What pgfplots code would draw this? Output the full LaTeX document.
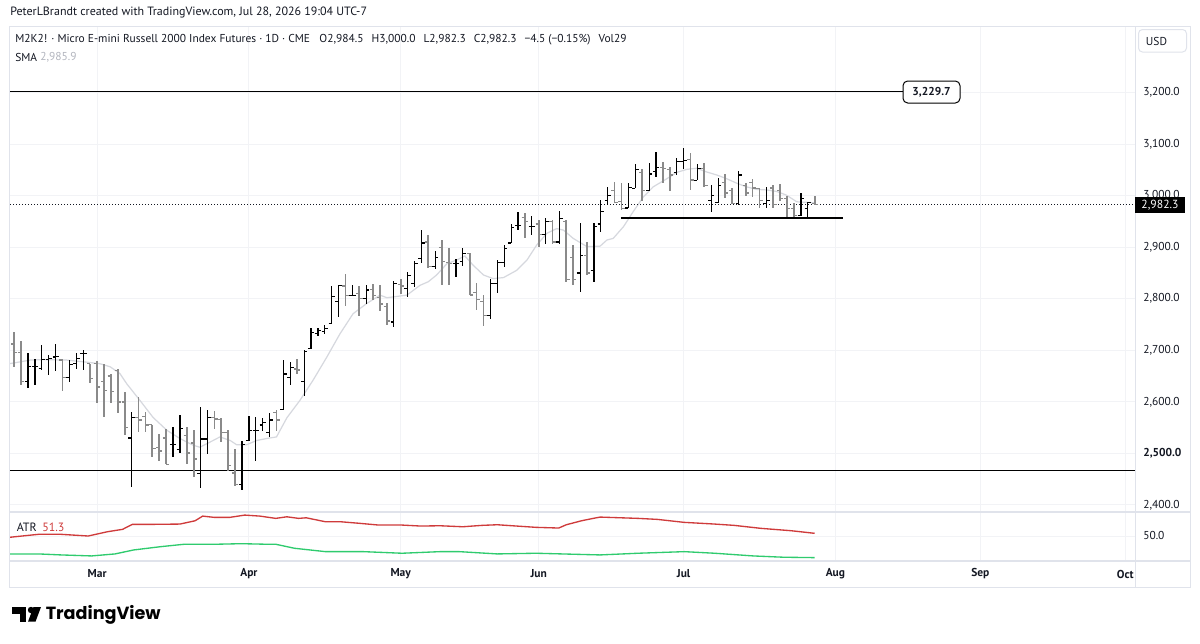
\documentclass[border=0pt]{standalone}
\usepackage{pgfplots}
\pgfplotsset{compat=1.18}
\usepackage{pgfplotstable}
\usepackage{fontspec}
\setmainfont{PT Sans}
\newfontfamily\logofont{Poppins}
\definecolor{tvtext}{HTML}{131722}
\definecolor{tvgrid}{HTML}{F2F3F6}
\definecolor{tvborder}{HTML}{E0E3EB}
\definecolor{smac}{HTML}{D6D8DE}
\definecolor{downc}{HTML}{8A8A8A}
\definecolor{atrred}{HTML}{CF3B3B}
\definecolor{atrgreen}{HTML}{2FCB6E}
\definecolor{smaval}{HTML}{B2B5BE}
\newcommand\fpx[1]{\fontsize{#1}{#1}\selectfont}
\pgfdeclareplotmark{otick}{\pgfpathmoveto{\pgfpoint{-2.4pt}{0pt}}\pgfpathlineto{\pgfpoint{0pt}{0pt}}\pgfusepathqstroke}
\pgfdeclareplotmark{ctick}{\pgfpathmoveto{\pgfpoint{0pt}{0pt}}\pgfpathlineto{\pgfpoint{2.4pt}{0pt}}\pgfusepathqstroke}

\pgfplotstableread{
i O H L C
1 2712 2736 2668 2696
2 2696 2718 2632 2640
3 2640 2694 2627 2668
4 2668 2684 2632 2668
5 2664 2710 2661 2682
6 2682 2690 2653 2684
7 2687 2712 2660 2688
8 2681 2681 2621 2647
9 2648 2681 2638 2673
10 2674 2694 2664 2684
11 2694 2701 2661 2694
12 2674 2674 2637 2645
13 2674 2679 2598 2629
14 2640 2674 2571 2622
15 2650 2655 2597 2620
16 2661 2663 2578 2600
17 2600 2619 2535 2550
18 2530 2580 2435 2570
19 2570 2609 2542 2565
20 2572 2580 2542 2555
21 2556 2556 2494 2509
22 2511 2538 2486 2505
23 2530 2548 2479 2479
24 2517 2552 2493 2517
25 2507 2574 2501 2548
26 2535 2551 2479 2501
27 2520 2545 2454 2489
28 2461 2590 2433 2528
29 2528 2585 2499 2570
30 2570 2582 2548 2567
31 2566 2569 2522 2540
32 2540 2546 2466 2477
33 2462 2509 2436 2440
34 2440 2525 2430 2518
35 2525 2572 2525 2545
36 2545 2571 2486 2545
37 2555 2569 2543 2560
38 2540 2578 2532 2565
39 2580 2585 2543 2565
40 2585 2681 2585 2654
41 2648 2677 2632 2666
42 2664 2684 2655 2662
43 2640 2700 2611 2697
44 2703 2744 2703 2735
45 2733 2744 2727 2738
46 2737 2750 2731 2743
47 2752 2824 2752 2805
48 2795 2826 2765 2825
49 2825 2848 2785 2806
50 2806 2826 2805 2806
51 2810 2824 2766 2800
52 2800 2826 2789 2817
53 2818 2828 2797 2806
54 2803 2826 2776 2790
55 2785 2791 2750 2757
56 2755 2835 2745 2830
57 2828 2839 2810 2825
58 2820 2852 2804 2845
59 2830 2873 2822 2868
60 2878 2934 2870 2908
61 2910 2923 2859 2862
62 2862 2893 2857 2880
63 2900 2914 2826 2872
64 2870 2899 2826 2868
65 2868 2878 2842 2868
66 2872 2899 2863 2888
67 2888 2889 2807 2807
68 2812 2831 2779 2798
69 2795 2807 2747 2767
70 2767 2839 2760 2830
71 2830 2876 2811 2870
72 2870 2904 2862 2898
73 2908 2945 2908 2938
74 2942 2969 2933 2942
75 2958 2967 2917 2950
76 2940 2960 2923 2940
77 2945 2952 2901 2925
78 2925 2956 2907 2950
79 2950 2952 2907 2910
80 2910 2971 2906 2955
81 2950 2952 2833 2837
82 2880 2904 2826 2837
83 2850 2946 2813 2884
84 2884 2910 2846 2850
85 2855 2946 2833 2940
86 2945 2991 2930 2969
87 2990 3017 2982 3000
88 3010 3027 2985 2987
89 2988 3024 2972 2975
90 2976 3024 2975 3016
91 3014 3061 3014 3050
92 3045 3051 2990 3010
93 3010 3064 3009 3042
94 3047 3085 3037 3055
95 3055 3066 3025 3053
96 3050 3055 3009 3040
97 3045 3072 3040 3066
98 3066 3092 3051 3068
99 3070 3083 3011 3030
100 3030 3061 3030 3053
101 3053 3064 3017 3020
102 2990 3020 2969 3000
103 2987 3035 2986 3020
104 3025 3042 2995 3005
105 3010 3014 2984 2985
106 2985 3048 2982 3040
107 3020 3025 3000 3005
108 3025 3033 2998 3015
109 3014 3014 2975 2990
110 2985 3017 2975 2990
111 3015 3020 2975 2983
112 3010 3022 2990 2995
113 2995 2999 2956 2975
114 2975 2985 2959 2962
115 2962 3005 2960 2995
116 2975 2988 2956 2986.8
117 2984.5 3000 2982.3 2982.3
}\ohlc

\pgfplotstableread{
i v
0.3 2674
3.3 2681
5.2 2682
8.6 2681
11.5 2677
13.4 2674
14.9 2668
16.3 2655
17.3 2635
19.2 2603
21.1 2570
23.1 2545
25.0 2529
26.9 2516
27.9 2512
29.8 2525
30.8 2532
32.3 2525
33.2 2517
34.7 2517
36.1 2525
37.6 2529
39.0 2532
40.5 2569
42.4 2603
44.3 2642
46.3 2687
48.2 2732
50.1 2771
52.1 2791
54.0 2807
55.0 2802
56.2 2804
57.9 2807
59.8 2826
61.0 2833
62.2 2846
63.7 2868
65.1 2875
66.3 2883
67.5 2865
69.0 2846
70.4 2839
71.9 2841
73.8 2855
75.3 2875
76.7 2904
78.2 2927
79.6 2936
80.6 2933
82.0 2917
84.0 2901
85.9 2902
86.9 2914
87.8 2917
89.3 2940
90.7 2969
92.2 2998
93.6 3017
95.6 3033
97.0 3045
98.5 3051
99.9 3053
101.3 3046
102.8 3040
104.2 3033
105.7 3024
107.1 3017
108.6 3012
110.0 3011
111.5 3008
112.9 3001
114.4 2988
117 2986
}\sma

\pgfplotstableread{
i v
0.3 49.67
4.5 50.89
7.8 50.89
11.7 50.20
14.5 51.95
16.7 52.93
18.1 54.96
21.1 54.96
25.0 55.08
27.2 56.42
28.3 58.33
30.0 57.80
32.2 57.80
34.4 58.74
36.6 58.33
38.9 57.40
40.5 58.05
42.2 57.40
43.3 57.64
46.1 56.02
48.3 56.02
51.1 55.37
53.8 54.67
57.2 54.67
59.9 54.27
62.7 54.39
66.0 53.98
68.8 54.55
71.0 54.80
73.8 54.27
76.6 53.74
79.9 53.46
81.0 54.80
83.2 56.42
84.9 57.40
85.9 57.93
91.4 57.40
94.2 56.99
98.1 55.77
102.5 55.08
105.3 54.55
109.2 53.33
113.6 52.36
117 51.30
}\atr

\pgfplotstableread{
i v
0.3 42.89
4.5 42.89
7.8 42.48
12.2 42.07
15.6 42.89
18.3 44.51
22.2 45.85
25.6 46.83
30.0 46.83
33.9 47.07
37.8 46.83
38.9 46.83
41.6 45.20
46.1 43.82
51.6 43.82
57.2 43.17
62.7 43.82
65.5 43.82
71.0 42.89
76.6 43.17
82.1 42.76
85.9 42.48
91.4 43.17
98.1 43.82
102.5 43.17
108.1 42.07
112.5 41.54
117 41.38
}\atrg

\begin{document}
\begin{tikzpicture}
\path[use as bounding box, fill=white] (0,0) rectangle (900pt,-482.25pt);

% ---------------- price pane ----------------
\begin{axis}[
  at={(6.75pt,-384pt)}, anchor=south west,
  scale only axis, width=844.5pt, height=364.5pt,
  xmin=0.232, xmax=163.42, ymin=2386.4, ymax=3328.9,
  axis line style={draw=none},
  major tick length=0pt,
  xtick={13,35,57,77,98,120,141,162}, xticklabels={},
  ytick={2400,2500,2600,2700,2800,2900,3000,3100,3200},
  yticklabels={{2,400.0},{\bfseries 2,500.0},{2,600.0},{2,700.0},{2,800.0},{2,900.0},{3,000.0},{3,100.0},{3,200.0}},
  yticklabel pos=right,
  yticklabel style={anchor=west, inner sep=0pt, xshift=6pt, font=\fpx{8.6}, text=tvtext},
  grid=major, grid style={tvgrid, line width=0.75pt},
]
% SMA
\addplot[smac, line width=0.9pt, mark=none] table[x=i, y=v] {\sma};
% horizontal lines
\addplot[black, line width=0.75pt, mark=none] coordinates {(0,3202) (129.8,3202)};
\addplot[black, line width=0.75pt, mark=none] coordinates {(0,2466.4) (170,2466.4)};
\addplot[tvtext, line width=0.75pt, dash pattern=on 0.75pt off 1.5pt, mark=none] coordinates {(0,2982.3) (170,2982.3)};
% up bars
\addplot[draw=none, mark=none, error bars/.cd, y dir=both, y explicit, error mark=none,
  error bar style={draw=black, line width=0.9pt}]
  table[x=i, y expr={\thisrow{C}>=\thisrow{O} ? 0.5*(\thisrow{H}+\thisrow{L}) : nan}, y error expr={0.5*(\thisrow{H}-\thisrow{L})}] {\ohlc};
\addplot[only marks, mark=otick, mark options={draw=black, line width=0.9pt}]
  table[x=i, y expr={\thisrow{C}>=\thisrow{O} ? \thisrow{O} : nan}] {\ohlc};
\addplot[only marks, mark=ctick, mark options={draw=black, line width=0.9pt}]
  table[x=i, y expr={\thisrow{C}>=\thisrow{O} ? \thisrow{C} : nan}] {\ohlc};
% down bars
\addplot[draw=none, mark=none, error bars/.cd, y dir=both, y explicit, error mark=none,
  error bar style={draw=downc, line width=1.3pt}]
  table[x=i, y expr={\thisrow{C}<\thisrow{O} ? 0.5*(\thisrow{H}+\thisrow{L}) : nan}, y error expr={0.5*(\thisrow{H}-\thisrow{L})}] {\ohlc};
\addplot[only marks, mark=otick, mark options={draw=downc, line width=1pt}]
  table[x=i, y expr={\thisrow{C}<\thisrow{O} ? \thisrow{O} : nan}] {\ohlc};
\addplot[only marks, mark=ctick, mark options={draw=downc, line width=1pt}]
  table[x=i, y expr={\thisrow{C}<\thisrow{O} ? \thisrow{C} : nan}] {\ohlc};
% support line
\addplot[black, line width=1.5pt, mark=none] coordinates {(88.9,2957.1) (121.1,2957.1)};
\end{axis}

% ---------------- ATR pane ----------------
\begin{axis}[
  at={(6.75pt,-420.75pt)}, anchor=south west,
  scale only axis, width=844.5pt, height=36.75pt,
  xmin=0.232, xmax=163.42, ymin=40, ymax=60,
  axis line style={draw=none},
  major tick length=0pt,
  xtick={13,35,57,77,98,120,141,162},
  xticklabels={Mar,Apr,May,Jun,Jul,Aug,Sep,Oct},
  xticklabel style={anchor=center, inner sep=0pt, yshift=-9.75pt, font=\fpx{8.6}\bfseries, text=tvtext},
  ytick={50}, yticklabels={50.0},
  yticklabel pos=right,
  yticklabel style={anchor=west, inner sep=0pt, xshift=6pt, yshift=1pt, font=\fpx{8.6}, text=tvtext},
  grid=major, grid style={tvgrid, line width=0.75pt},
]
\addplot[atrred, line width=1pt, mark=none] table[x=i, y=v] {\atr};
\addplot[atrgreen, line width=1pt, mark=none] table[x=i, y=v] {\atrg};
\end{axis}

% ---------------- frame and annotations (pixel coords) ----------------
\begin{scope}[x=0.75pt, y=-0.75pt]
\draw[tvborder, line width=0.75pt] (9,26) rectangle (1190,587);
\draw[tvborder, line width=0.75pt] (1135,26) -- (1135,587);
\draw[tvborder, line width=1.5pt] (9,512) -- (1190,512);
\draw[tvborder, line width=1.2pt] (9,561) -- (1190,561);

% header
\node[anchor=west, inner sep=0pt, text=tvtext, font=\fpx{9}] at (10,12)
  {PeterLBrandt created with TradingView.com, Jul 28, 2026 19:04 UTC-7};
% legend
\node[anchor=west, inner sep=0pt, text=tvtext, font=\fpx{8.6}] at (15,40)
  {M2K2! · Micro E-mini Russell 2000 Index Futures · 1D · CME\hspace{7pt}O2,984.5\hspace{6pt}H3,000.0\hspace{6pt}L2,982.3\hspace{6pt}C2,982.3\hspace{6pt}−4.5 (−0.15\%)\hspace{6pt}Vol29};
\node[anchor=west, inner sep=0pt, text=tvtext, font=\fpx{8.6}] at (15,57) {SMA};
\node[anchor=west, inner sep=0pt, text=smaval, font=\fpx{8.6}] at (40,57) {2,985.9};
% ATR label
\node[anchor=west, inner sep=0pt, text=tvtext, font=\fpx{9}] at (16.5,527) {ATR};
\node[anchor=west, inner sep=0pt, text=atrred, font=\fpx{9}] at (42,527) {51.3};

% USD box
\draw[tvborder, line width=0.75pt, rounded corners=3pt] (1138.5,29.5) rectangle (1186.5,52);
\node[text=tvtext, font=\fpx{8.6}, inner sep=0pt] at (1156.5,41) {USD};

% 3,229.7 label
\draw[black, line width=0.75pt, rounded corners=3.5pt, fill=white] (903,81) rectangle (960,103);
\node[text=tvtext, font=\fpx{8.6}\bfseries, inner sep=0pt] at (931.5,92) {3,229.7};

% last price label
\fill[black] (1135,197) rectangle (1185,213);
\node[text=white, font=\fpx{8.8}, inner sep=0pt] at (1160,205) {2,982.3};

% TradingView logo
\fill[black] (11.7,607) rectangle (26,613.5);
\fill[black] (19.5,607) rectangle (26,621.7);
\fill[black] (31,610) circle (3.2);
\fill[black] (33.5,607) -- (41,607) -- (35.5,621.7) -- (28,621.7) -- cycle;
\node[anchor=west, inner sep=0pt, text=black, font=\logofont\fpx{13.2}\bfseries] at (45.5,615) {TradingView};
\end{scope}
\end{tikzpicture}
\end{document}
